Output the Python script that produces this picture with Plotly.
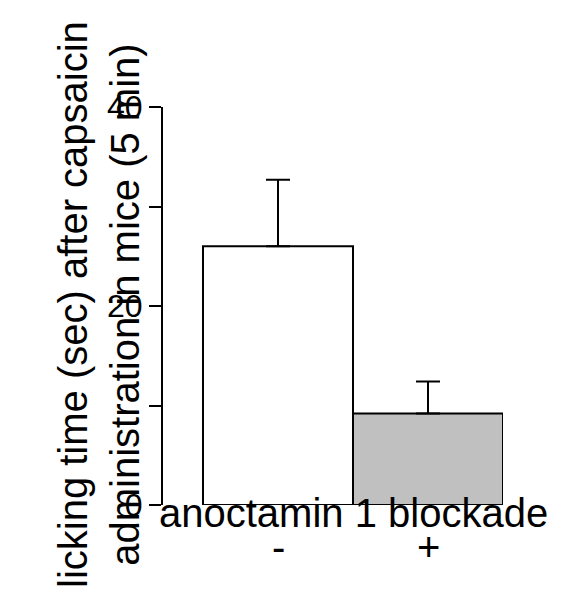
import plotly.graph_objects as go

groups = ["-", "+"]
means = [26.0, 9.2]
errors = [6.7, 3.2]
colors = ["white", "#c0c0c0"]
ytick_vals = [0, 10, 20, 30, 40]
ytick_text = ["0", "", "20", "", "40"]

fig = go.Figure()
fig.add_trace(go.Bar(
    x=[0, 1], y=means, width=1,
    marker=dict(color=colors, line=dict(color="black", width=2)),
    error_y=dict(type="data", array=errors, arrayminus=[0, 0],
                 color="black", thickness=2, width=12),
))

fnt = dict(family="Liberation Sans, Arial", size=40, color="black")
tfnt = dict(family="Liberation Sans, Arial", size=32, color="black")
fig.add_annotation(text="anoctamin 1 blockade", x=0.5, y=-0.08, xref="x", yref="paper",
                   showarrow=False, font=fnt)
for i, g in enumerate(groups):
    fig.add_annotation(text=g, x=i, y=-0.165, xref="x", yref="paper",
                       showarrow=False, font=fnt)
fig.add_annotation(text="licking time (sec) after capsaicin<br>administration in mice (5 min)",
                   x=(49 - 163) / 340, y=0.5025, xref="paper", yref="paper",
                   textangle=-90, showarrow=False, font=fnt)

fig.update_layout(
    width=566, height=610,
    margin=dict(l=155, r=71, t=99, b=113),
    plot_bgcolor="white", paper_bgcolor="white",
    showlegend=False, font=fnt,
    xaxis=dict(range=[-0.7667, 1.5], showticklabels=False, showline=False,
               showgrid=False, zeroline=False, ticks=""),
    yaxis=dict(range=[0, 40], tickvals=ytick_vals, ticktext=ytick_text,
               ticks="outside", ticklen=12, tickwidth=2, tickcolor="black",
               showline=True, linewidth=2, linecolor="black",
               showgrid=False, zeroline=False, tickfont=tfnt),
)
fig.write_html("out.html")
